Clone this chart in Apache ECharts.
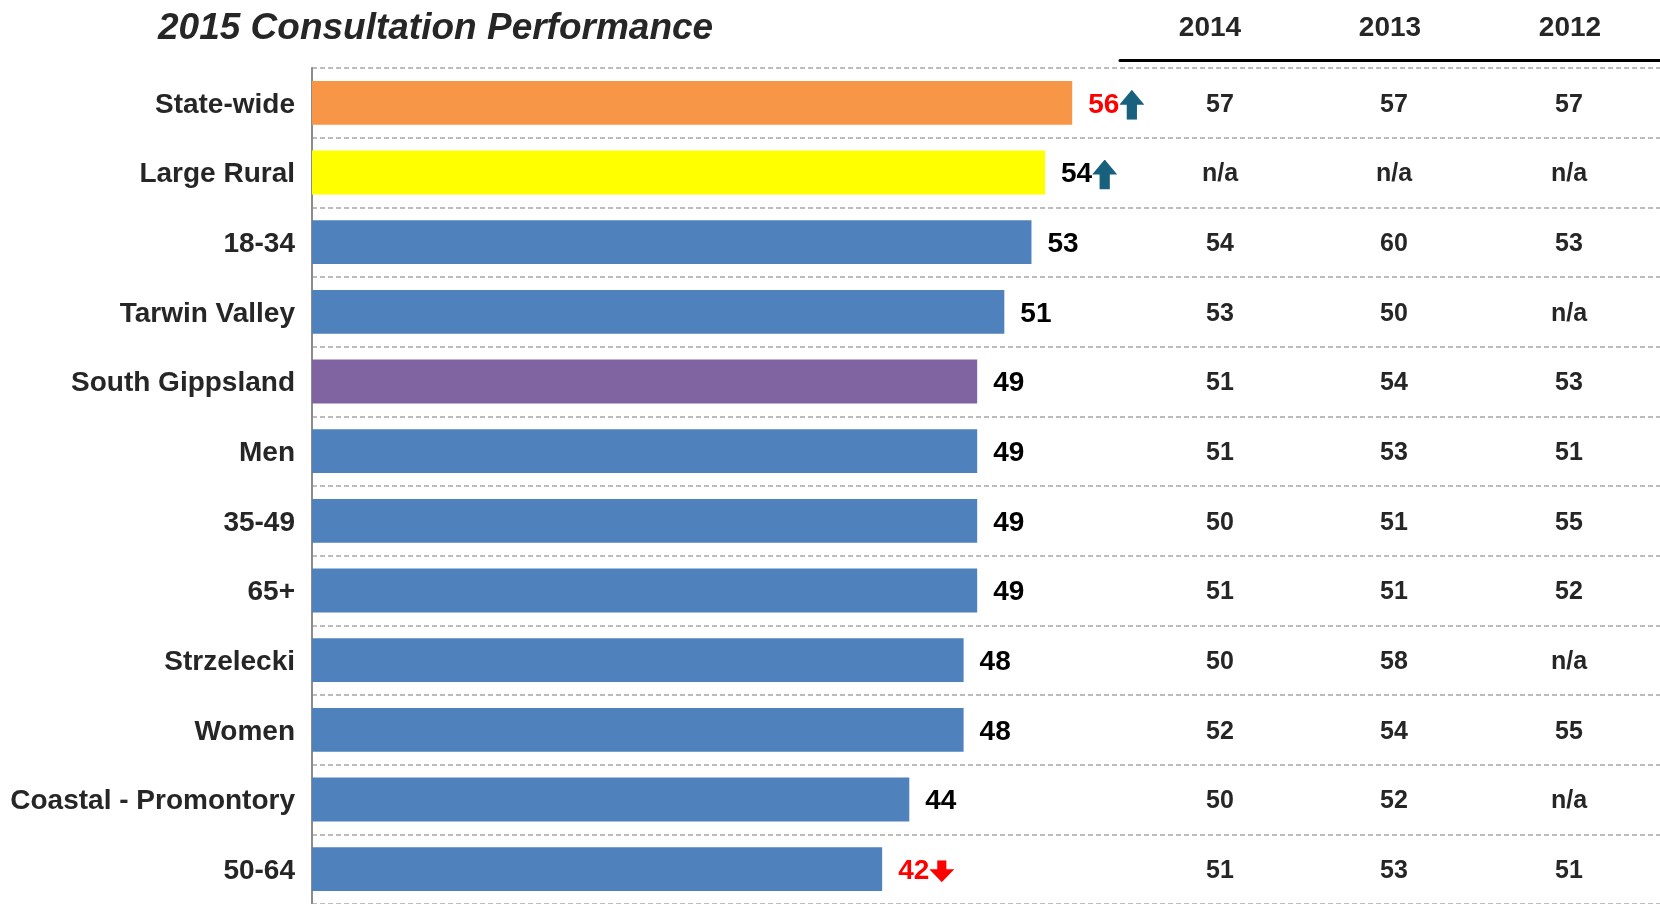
<!DOCTYPE html>
<html>
<head>
<meta charset="utf-8">
<script src="https://cdn.jsdelivr.net/npm/echarts@6/dist/echarts.min.js"></script>
<style>
  html, body { margin: 0; padding: 0; background: #fff; }
  #main { width: 1660px; height: 904px; }
</style>
</head>
<body>
<div id="main"></div>
<script>
// rows, top to bottom
const categories = ["State-wide", "Large Rural", "18-34", "Tarwin Valley", "South Gippsland", "Men",
	"35-49", "65+", "Strzelecki", "Women", "Coastal - Promontory", "50-64"];
const scores2015 = [56, 54, 53, 51, 49, 49, 49, 49, 48, 48, 44, 42];
const barColors = ["#F79646", "#FFFF00", "#4F81BD", "#4F81BD", "#8064A2", "#4F81BD",
	"#4F81BD", "#4F81BD", "#4F81BD", "#4F81BD", "#4F81BD", "#4F81BD"];
// significance vs state-wide: "up", "down" or ""
const trend = ["up", "up", "", "", "", "", "", "", "", "", "", "down"];
const redValue = [true, false, false, false, false, false, false, false, false, false, false, true];

const years = ["2014", "2013", "2012"];
const scores2014 = ["57", "n/a", "54", "53", "51", "51", "50", "51", "50", "52", "50", "51"];
const scores2013 = ["57", "n/a", "60", "50", "54", "53", "51", "51", "58", "54", "52", "53"];
const scores2012 = ["57", "n/a", "53", "n/a", "53", "51", "55", "52", "n/a", "55", "n/a", "51"];
const tableCols = [scores2014, scores2013, scores2012];
const colShift = [10, 4, -1];

const chart = echarts.init(document.getElementById("main"), null, { renderer: "canvas" });
const textDark = "#262626";
const font = "'Liberation Sans', Arial, sans-serif";

// block arrows used as rich-text backgrounds
const upSvg = '<svg xmlns="http://www.w3.org/2000/svg" width="22" height="26" viewBox="0 0 22 26">' +
	'<path d="M11 0 L22 13 L15.5 13 L15.5 26 L6.5 26 L6.5 13 L0 13 Z" fill="#17607E"/></svg>';
const downSvg = '<svg xmlns="http://www.w3.org/2000/svg" width="22" height="22" viewBox="0 0 22 22">' +
	'<path d="M7 0 L15 0 L15 9 L22 9 L11 22 L0 9 L7 9 Z" fill="#FF0000"/></svg>';
const upImg = new Image();
upImg.src = "data:image/svg+xml;charset=utf-8," + encodeURIComponent(upSvg);
const downImg = new Image();
downImg.src = "data:image/svg+xml;charset=utf-8," + encodeURIComponent(downSvg);

const barData = scores2015.map((v, i) => ({
	value: v,
	itemStyle: { color: barColors[i] },
	label: {
		formatter: (redValue[i] ? "{r|" + v + "}" : "{b|" + v + "}") +
			(trend[i] === "up" ? "{up|}" : trend[i] === "down" ? "{dn|}" : ""),
	},
}));

const tableSeries = tableCols.map((col, k) => ({
	type: "scatter",
	xAxisIndex: 1,
	yAxisIndex: 1,
	symbolSize: 1,
	itemStyle: { color: "rgba(0,0,0,0)", opacity: 1 },
	silent: true,
	data: col.map((txt, j) => ({ name: txt, value: [k, j] })),
	label: {
		show: true,
		position: "inside",
		offset: [colShift[k], 2],
		formatter: "{b}",
		fontFamily: font,
		fontWeight: "bold",
		fontSize: 25,
		color: textDark,
		opacity: 1,
	},
}));

const render = () => chart.setOption({
	animation: false,
	title: {
		text: "2015 Consultation Performance",
		left: 153,
		top: 5,
		textStyle: { fontFamily: font, fontStyle: "italic", fontWeight: "bold", fontSize: 37, color: textDark },
	},
	grid: [
		{ left: 312, top: 68, right: 0, height: 838 },
		{ left: 1120, top: 68, width: 540, height: 838 },
	],
	xAxis: [
		{ type: "value", gridIndex: 0, min: 0, max: 99.3, show: false },
		{
			type: "category", gridIndex: 1, data: years, position: "top", offset: 8,
			axisLine: { lineStyle: { color: "#000", width: 3 } },
			axisTick: { show: false },
			axisLabel: { margin: 18, fontFamily: font, fontWeight: "bold", fontSize: 28, color: textDark },
		},
	],
	yAxis: [
		{
			type: "category", gridIndex: 0, data: categories, inverse: true,
			axisLine: { lineStyle: { color: "#8c8c8c", width: 2 } },
			axisTick: { length: 7, lineStyle: { color: "#8c8c8c", width: 2 } },
			axisLabel: {
				margin: 17,
				formatter: "{c|{value}}",
				rich: {
					c: { padding: [4, 0, 0, 0], fontFamily: font, fontWeight: "bold", fontSize: 28, color: textDark },
				},
			},
			splitLine: { show: true, lineStyle: { color: "#a6a6a6", type: [5, 3], width: 1.5 } },
		},
		{ type: "category", gridIndex: 1, data: categories, inverse: true, show: false },
	],
	series: [
		{
			type: "bar",
			xAxisIndex: 0,
			yAxisIndex: 0,
			barCategoryGap: "37%",
			data: barData,
			label: {
				show: true,
				position: "right",
				distance: 16,
				offset: [0, 2],
				rich: {
					b: { fontFamily: font, fontWeight: "bold", fontSize: 28, color: "#000" },
					r: { fontFamily: font, fontWeight: "bold", fontSize: 28, color: "#ff0000" },
					up: { width: 22, height: 26, padding: [4, 0, 0, 3], backgroundColor: { image: upImg } },
					dn: { width: 22, height: 22, padding: [0, 0, 0, 3], backgroundColor: { image: downImg } },
				},
			},
		},
		...tableSeries,
	],
});

let loaded = 0;
const done = () => { if (++loaded === 2) render(); };
upImg.onload = done;
downImg.onload = done;
render();
</script>
</body>
</html>
